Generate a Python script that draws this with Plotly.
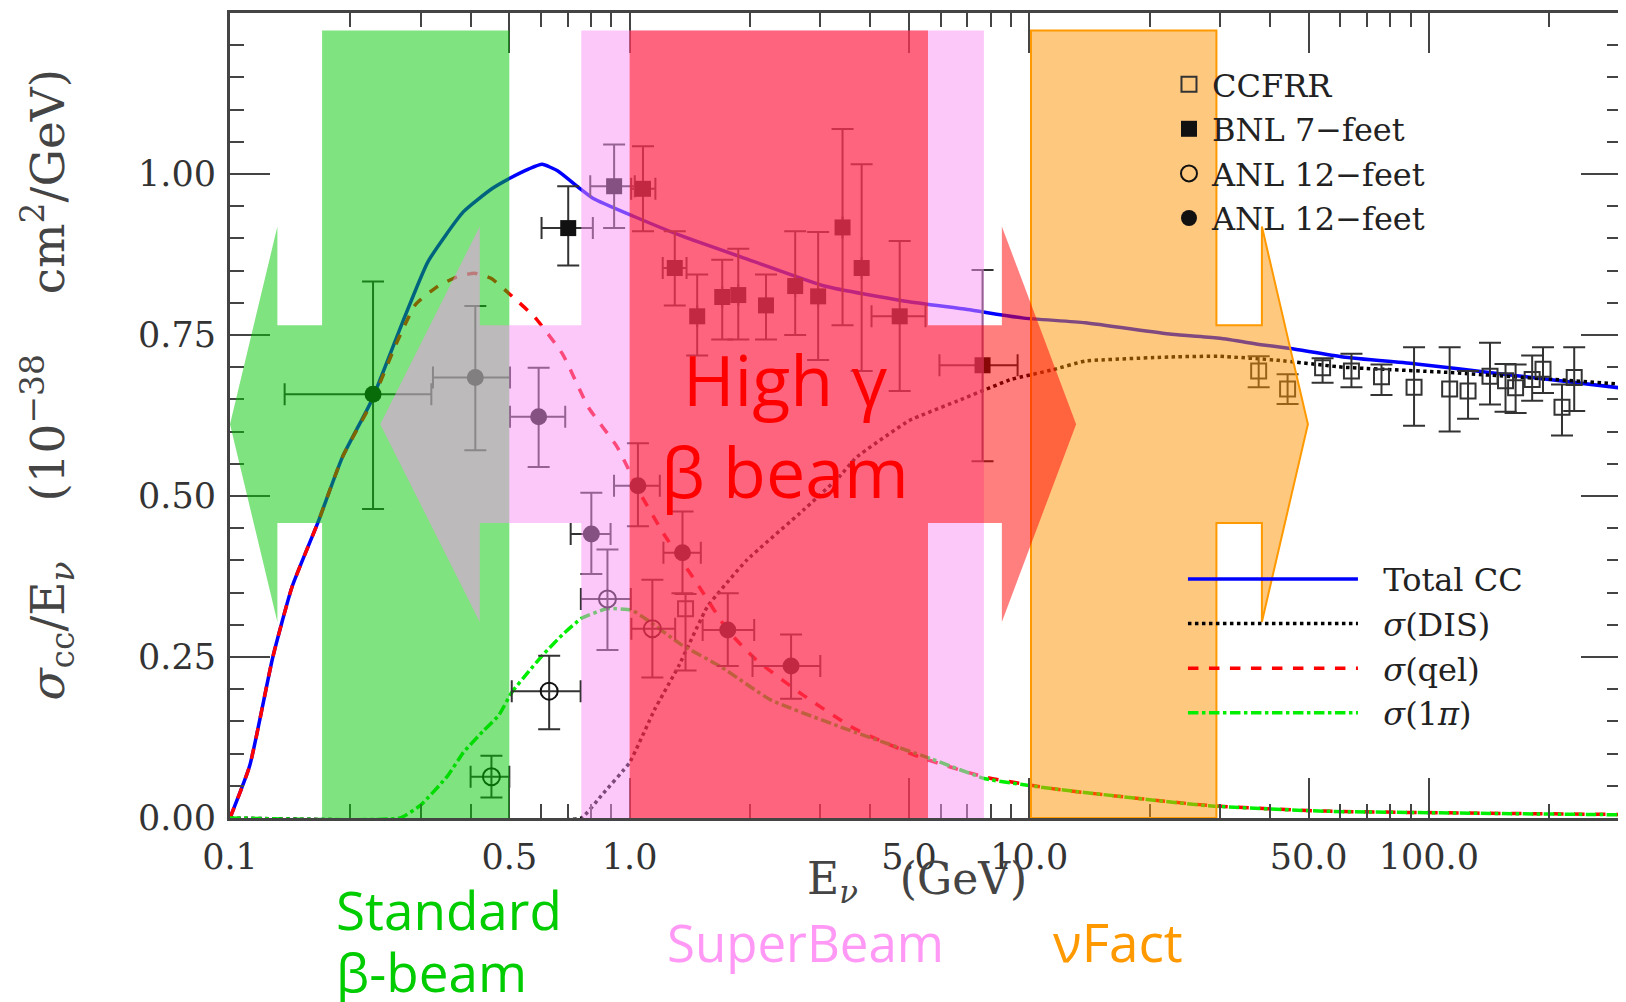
import plotly.graph_objects as go

# ---------------- data ----------------
# Total CC cross section / E
cc_E = [0.1, 0.112, 0.128, 0.143, 0.166, 0.191, 0.226, 0.271, 0.313, 0.384, 0.453, 0.50,
        0.56, 0.604, 0.66, 0.742, 0.811, 1.026, 1.36, 2.05, 3.09, 4.9, 7.0, 9.6, 13.8,
        22.7, 30.0, 38.0, 45.0, 61.0, 93.0, 150.0, 300.0]
cc_v = [0.0, 0.081, 0.25, 0.359, 0.459, 0.56, 0.648, 0.7715, 0.864, 0.9415, 0.9775, 0.993,
        1.008, 1.015, 1.005, 0.98, 0.962, 0.934, 0.903, 0.864, 0.8256, 0.8024, 0.7896, 0.7766,
        0.769, 0.751, 0.745, 0.735, 0.729, 0.716, 0.705, 0.69, 0.668]

# sigma(qel)
qel_E = [0.1, 0.112, 0.128, 0.143, 0.166, 0.191, 0.226, 0.26, 0.291, 0.33, 0.369, 0.409,
         0.45, 0.502, 0.58, 0.68, 0.789, 0.931, 1.074, 1.215, 1.49, 1.757, 2.07, 2.70, 3.67,
         5.3, 7.69, 11.6, 28.2, 55.0, 300.0]
qel_v = [0.0, 0.081, 0.25, 0.359, 0.459, 0.56, 0.645, 0.735, 0.797, 0.825, 0.84, 0.846,
         0.838, 0.813, 0.777, 0.72, 0.6375, 0.576, 0.499, 0.442, 0.36, 0.292, 0.246, 0.192,
         0.138, 0.095, 0.064, 0.045, 0.0194, 0.0107, 0.0055]

# sigma(1 pi)
pi_E = [0.1, 0.266, 0.30, 0.35, 0.384, 0.43, 0.47, 0.507, 0.56, 0.612, 0.68, 0.758, 0.876,
        1.011, 1.11, 1.34, 1.69, 2.26, 3.67, 5.65, 7.76, 11.6, 28.0, 55.0, 300.0]
pi_v = [0.0, 0.0, 0.02, 0.065, 0.102, 0.135, 0.159, 0.195, 0.228, 0.256, 0.285, 0.31, 0.325,
        0.323, 0.307, 0.27, 0.235, 0.183, 0.133, 0.0925, 0.061, 0.045, 0.019, 0.0105, 0.005]

# sigma(DIS)
dis_E = [0.1, 0.757, 0.85, 1.0, 1.156, 1.326, 1.566, 1.96, 2.72, 3.35, 3.69, 5.0, 6.7, 9.0,
         11.45, 13.8, 22.7, 30.0, 42.0, 61.0, 111.0, 300.0]
dis_v = [0.0, 0.0, 0.035, 0.086, 0.169, 0.2357, 0.3285, 0.40, 0.478, 0.53, 0.56, 0.617,
         0.649, 0.681, 0.696, 0.7096, 0.716, 0.717, 0.7107, 0.70, 0.692, 0.674]

# CCFRR (open squares)
ccfrr_E = [1.38, 37.5, 44.3, 54.2, 64.0, 76.1, 91.8, 112.7, 125.3, 142.2, 155.5, 164.8,
           181.3, 193.0, 215.3, 231.0]
ccfrr_v = [0.325, 0.694, 0.666, 0.699, 0.694, 0.685, 0.669, 0.666, 0.663, 0.686, 0.679,
           0.668, 0.681, 0.697, 0.638, 0.684]
ccfrr_hi = [0.348, 0.717, 0.689, 0.714, 0.721, 0.704, 0.731, 0.731, 0.694, 0.738, 0.705,
            0.704, 0.718, 0.731, 0.673, 0.731]
ccfrr_lo = [0.229, 0.669, 0.643, 0.676, 0.669, 0.657, 0.609, 0.600, 0.620, 0.642, 0.631,
            0.629, 0.648, 0.660, 0.594, 0.632]

# BNL 7-feet (filled squares)
bnl_E = [0.702, 0.9145, 1.08, 1.297, 1.476, 1.705, 1.87, 2.194, 2.596, 2.963, 3.41, 3.807,
         4.74, 7.64]
bnl_v = [0.916, 0.981, 0.977, 0.854, 0.779, 0.809, 0.812, 0.796, 0.826, 0.810, 0.917, 0.854,
         0.779, 0.703]
bnl_hi = [0.981, 1.046, 1.043, 0.911, 0.844, 0.867, 0.884, 0.844, 0.911, 0.910, 1.070, 1.015,
          0.896, 0.851]
bnl_lo = [0.858, 0.916, 0.911, 0.796, 0.718, 0.743, 0.743, 0.743, 0.750, 0.711, 0.765, 0.694,
          0.663, 0.554]
bnl_Elo = [0.602, 0.797, 1.009, 1.21, 1.476, 1.705, 1.87, 2.194, 2.596, 2.963, 3.41, 3.807,
           4.03, 5.96]
bnl_Ehi = [0.809, 1.03, 1.16, 1.388, 1.476, 1.705, 1.87, 2.194, 2.596, 2.963, 3.41, 3.807,
           5.5, 9.35]

# ANL 12-feet (open circles)
anlo_E = [0.451, 0.629, 0.880, 1.14]
anlo_v = [0.064, 0.197, 0.340, 0.294]
anlo_hi = [0.0966, 0.252, 0.417, 0.370]
anlo_lo = [0.032, 0.138, 0.261, 0.218]
anlo_Elo = [0.40, 0.507, 0.755, 1.01]
anlo_Ehi = [0.50, 0.754, 1.007, 1.30]

# ANL 12-feet (filled circles)
anlf_E = [0.228, 0.411, 0.592, 0.802, 1.049, 1.356, 1.76, 2.535]
anlf_v = [0.658, 0.684, 0.623, 0.441, 0.516, 0.412, 0.292, 0.236]
anlf_hi = [0.833, 0.795, 0.699, 0.505, 0.582, 0.476, 0.349, 0.285]
anlf_lo = [0.480, 0.571, 0.545, 0.379, 0.453, 0.349, 0.236, 0.185]
anlf_Elo = [0.137, 0.322, 0.502, 0.712, 0.914, 1.215, 1.523, 2.03]
anlf_Ehi = [0.319, 0.502, 0.690, 0.896, 1.19, 1.507, 2.05, 3.0]

# axis ticks
x_major = [0.1, 0.5, 1.0, 5.0, 10.0, 50.0, 100.0]
x_major_text = ["0.1", "0.5", "1.0", "5.0", "10.0", "50.0", "100.0"]
x_minor = [0.2, 0.3, 0.4, 0.6, 0.7, 0.8, 0.9, 2, 3, 4, 6, 7, 8, 9,
           20, 30, 40, 60, 70, 80, 90, 200, 300]
y_major = [0.0, 0.25, 0.5, 0.75, 1.0]
y_major_text = ["0.00", "0.25", "0.50", "0.75", "1.00"]
y_minor = [0.05, 0.10, 0.15, 0.20, 0.30, 0.35, 0.40, 0.45, 0.55, 0.60, 0.65, 0.70,
           0.80, 0.85, 0.90, 0.95, 1.05, 1.10, 1.15, 1.20]

# highlighted energy bands (x in GeV) and arrow geometry (y in plot units)
band_top = 1.223
arrow_mid, shaft_half, head_half = 0.6115, 0.1535, 0.307
green_band = (0.17, 0.5)      # Standard beta-beam, arrow pointing left
green_arrow = (0.1314, 0.1)   # head base, tip
pink_band = (0.757, 7.7)      # SuperBeam, arrow pointing left
pink_arrow = (0.4217, 0.2377)
red_band = (1.0, 5.58)        # High gamma beta-beam, arrow pointing right
red_arrow = (8.54, 13.1)
orange_band = (10.1, 29.4)    # nu-Factory, arrow pointing right
orange_arrow = (38.2, 49.8)


def band_path(band, arrow, side):
    lo, hi = band
    base, tip = arrow
    st, sb = arrow_mid + shaft_half, arrow_mid - shaft_half
    ht, hb = arrow_mid + head_half, arrow_mid - head_half
    if side == "left":
        pts = [(tip, arrow_mid), (base, ht), (base, st), (lo, st), (lo, band_top),
               (hi, band_top), (hi, 0), (lo, 0), (lo, sb), (base, sb), (base, hb)]
    else:
        pts = [(lo, 0), (lo, band_top), (hi, band_top), (hi, st), (base, st), (base, ht),
               (tip, arrow_mid), (base, hb), (base, sb), (hi, sb), (hi, 0)]
    return "M " + " L ".join(f"{x},{y}" for x, y in pts) + " Z"


fig = go.Figure()

SERIF = "DejaVu Serif"
INK = "#111111"
NB = "\u00a0"

# ---------------- curves ----------------
fig.add_trace(go.Scatter(x=cc_E, y=cc_v, mode="lines", name=NB * 2 + "Total CC",
                         line=dict(color="#0000ff", width=3.5, shape="spline", smoothing=0.5),
                         legend="legend2"))
fig.add_trace(go.Scatter(x=dis_E, y=dis_v, mode="lines", name=NB * 2 + "<i>σ</i>(DIS)",
                         line=dict(color="#000000", width=3.5, dash="dot", shape="spline",
                                   smoothing=0.3), legend="legend2"))
fig.add_trace(go.Scatter(x=qel_E, y=qel_v, mode="lines", name=NB * 2 + "<i>σ</i>(qel)",
                         line=dict(color="#ff0000", width=3.5, dash="dash", shape="spline",
                                   smoothing=0.5), legend="legend2"))
fig.add_trace(go.Scatter(x=pi_E, y=pi_v, mode="lines", name=NB * 2 + "<i>σ</i>(1<i>π</i>)",
                         line=dict(color="#00ee00", width=3.5, dash="dashdot", shape="spline",
                                   smoothing=0.4), legend="legend2"))


def minus(v, lo):
    return [a - b for a, b in zip(v, lo)]


def plus(v, hi):
    return [b - a for a, b in zip(v, hi)]


# ---------------- data points ----------------
fig.add_trace(go.Scatter(
    x=ccfrr_E, y=ccfrr_v, mode="markers", name="CCFRR",
    marker=dict(symbol="square-open", size=15, color="#333333", line=dict(width=2)),
    error_y=dict(type="data", symmetric=False, array=plus(ccfrr_v, ccfrr_hi),
                 arrayminus=minus(ccfrr_v, ccfrr_lo), color="#333333", thickness=2, width=11)))
fig.add_trace(go.Scatter(
    x=bnl_E, y=bnl_v, mode="markers", name="BNL 7−feet",
    marker=dict(symbol="square", size=16, color=INK),
    error_y=dict(type="data", symmetric=False, array=plus(bnl_v, bnl_hi),
                 arrayminus=minus(bnl_v, bnl_lo), color="#333333", thickness=2, width=11),
    error_x=dict(type="data", symmetric=False, array=plus(bnl_E, bnl_Ehi),
                 arrayminus=minus(bnl_E, bnl_Elo), color="#333333", thickness=2, width=11)))
fig.add_trace(go.Scatter(
    x=anlo_E, y=anlo_v, mode="markers", name="ANL 12−feet",
    marker=dict(symbol="circle-open", size=17, color=INK, line=dict(width=2)),
    error_y=dict(type="data", symmetric=False, array=plus(anlo_v, anlo_hi),
                 arrayminus=minus(anlo_v, anlo_lo), color="#333333", thickness=2, width=11),
    error_x=dict(type="data", symmetric=False, array=plus(anlo_E, anlo_Ehi),
                 arrayminus=minus(anlo_E, anlo_Elo), color="#333333", thickness=2, width=11)))
fig.add_trace(go.Scatter(
    x=anlf_E, y=anlf_v, mode="markers", name="ANL 12−feet",
    marker=dict(symbol="circle", size=17, color=INK),
    error_y=dict(type="data", symmetric=False, array=plus(anlf_v, anlf_hi),
                 arrayminus=minus(anlf_v, anlf_lo), color="#333333", thickness=2, width=11),
    error_x=dict(type="data", symmetric=False, array=plus(anlf_E, anlf_Ehi),
                 arrayminus=minus(anlf_E, anlf_Elo), color="#333333", thickness=2, width=11)))

# ---------------- overlay bands ----------------
shapes = [
    dict(type="path", path=band_path(green_band, green_arrow, "left"), xref="x", yref="y",
         fillcolor="rgba(0,200,0,0.5)", line=dict(width=0), layer="above"),
    dict(type="path", path=band_path(pink_band, pink_arrow, "left"), xref="x", yref="y",
         fillcolor="rgba(250,145,245,0.5)", line=dict(width=0), layer="above"),
    dict(type="path", path=band_path(orange_band, orange_arrow, "right"), xref="x", yref="y",
         fillcolor="rgba(255,145,0,0.5)", line=dict(width=2, color="#ff9900"), layer="above"),
    dict(type="path", path=band_path(red_band, red_arrow, "right"), xref="x", yref="y",
         fillcolor="rgba(255,0,0,0.5)", line=dict(width=0), layer="above"),
]

# the page body adds an 8 px offset; the figure is sized so the plot lands where it should
OFF = 8
W, H = 1626 - OFF, 1002 - OFF
L, R, T, B = 230 - OFF, 2, 11 - OFF, 184
PW, PH = W - L - R, H - T - B


def px(xpage):
    return (xpage - OFF - L) / PW


def py(ypage):
    return (H - B - (ypage - OFF)) / PH


COMIC = "Open Sans"
annotations = [
    dict(text="High γ", x=px(786), y=py(378), font=dict(family=COMIC, size=70, color="#ff0000")),
    dict(text="β beam", x=px(786), y=py(470), font=dict(family=COMIC, size=70, color="#ff0000")),
    dict(text="Standard", x=px(334), y=py(910), xanchor="left",
         font=dict(family=COMIC, size=53, color="#00cc00")),
    dict(text="β-beam", x=px(334), y=py(972), xanchor="left",
         font=dict(family=COMIC, size=53, color="#00cc00")),
    dict(text="SuperBeam", x=px(807), y=py(942), font=dict(family=COMIC, size=51, color="#ff99f5")),
    dict(text="νFact", x=px(1120), y=py(942), font=dict(family=COMIC, size=53, color="#ff9900")),
    dict(text="E<sub><i>ν</i></sub>   (GeV)", x=px(918), y=py(882),
         font=dict(family=SERIF, size=44, color="#444444")),
    dict(text="<i>σ</i><sub>cc</sub>/E<sub><i>ν</i></sub>    (10<sup>−38</sup>    cm<sup>2</sup>/GeV)",
         x=px(47), y=py(383), textangle=-90, font=dict(family=SERIF, size=47, color="#444444")),
]
for a in annotations:
    a.setdefault("xanchor", "center")
    a.update(xref="paper", yref="paper", yanchor="middle", showarrow=False)

axis_common = dict(showline=True, linewidth=3, linecolor="#444444", mirror="allticks",
                   ticks="inside", ticklen=40, tickwidth=2, tickcolor="#444444",
                   showgrid=False, zeroline=False,
                   tickfont=dict(family=SERIF, size=35, color="#333333"))

fig.update_layout(
    width=W, height=H,
    margin=dict(l=L, r=R, t=T, b=B),
    paper_bgcolor="white", plot_bgcolor="white",
    xaxis=dict(type="log", range=[-1, 2.4807], tickvals=x_major, ticktext=x_major_text,
               minor=dict(tickvals=x_minor, ticks="inside", ticklen=14, tickwidth=2,
                          tickcolor="#444444"),
               ticklabelstandoff=6, **axis_common),
    yaxis=dict(range=[0, 1.25], tickvals=y_major, ticktext=y_major_text,
               minor=dict(tickvals=y_minor, ticks="inside", ticklen=14, tickwidth=2,
                          tickcolor="#444444"),
               ticklabelstandoff=4, **axis_common),
    shapes=shapes,
    annotations=annotations,
    showlegend=True,
    legend=dict(x=px(1168), y=py(55), xanchor="left", yanchor="top", bgcolor="rgba(0,0,0,0)",
                font=dict(family=SERIF, size=32, color="#222222"), itemwidth=36,
                tracegroupgap=0),
    legend2=dict(x=px(1185), y=py(551), xanchor="left", yanchor="top", bgcolor="rgba(0,0,0,0)",
                 font=dict(family=SERIF, size=32, color="#222222"), itemwidth=170,
                 tracegroupgap=0),
)

fig.write_html("out.html")
